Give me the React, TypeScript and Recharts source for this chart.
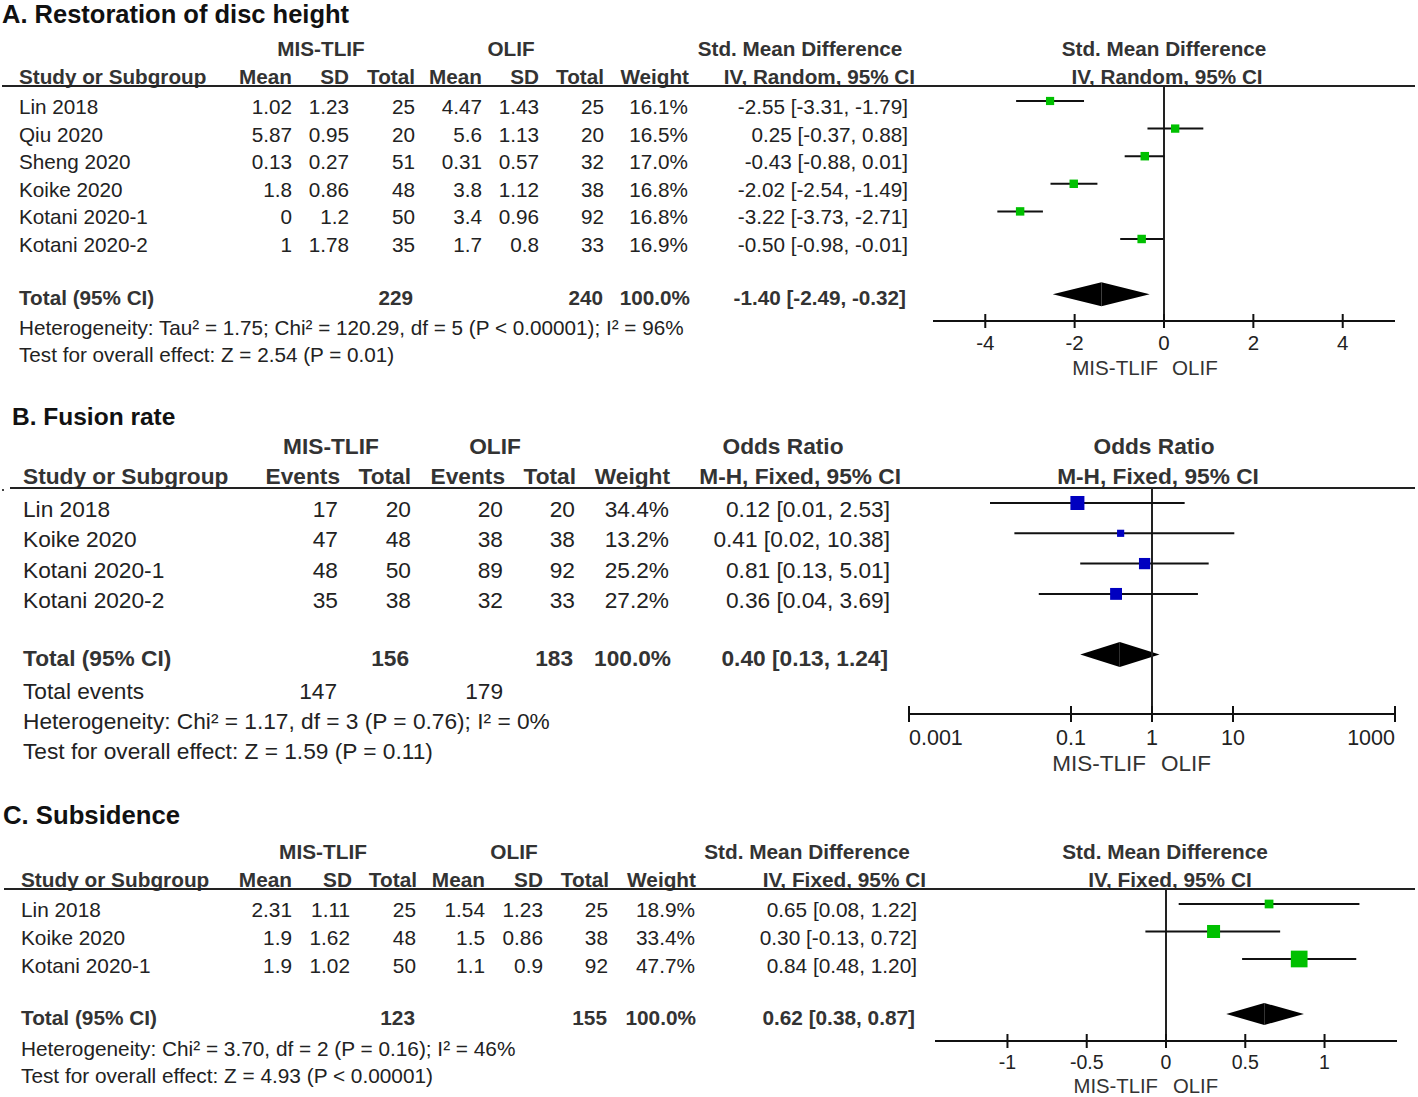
import React from 'react';
import { ScatterChart, Scatter, XAxis, YAxis, ErrorBar, ReferenceLine, ReferenceArea } from 'recharts';

const FONT = '"Liberation Sans", Arial, Helvetica, sans-serif';

// ---------- Panel A: Restoration of disc height ----------
const aStudies = ['Lin 2018', 'Qiu 2020', 'Sheng 2020', 'Koike 2020', 'Kotani 2020-1', 'Kotani 2020-2'];
const aMisMean = [1.02, 5.87, 0.13, 1.8, 0, 1];
const aMisSD = [1.23, 0.95, 0.27, 0.86, 1.2, 1.78];
const aMisTotal = [25, 20, 51, 48, 50, 35];
const aOlifMean = [4.47, 5.6, 0.31, 3.8, 3.4, 1.7];
const aOlifSD = [1.43, 1.13, 0.57, 1.12, 0.96, 0.8];
const aOlifTotal = [25, 20, 32, 38, 92, 33];
const aWeight = [16.1, 16.5, 17.0, 16.8, 16.8, 16.9];
const aEst = [-2.55, 0.25, -0.43, -2.02, -3.22, -0.5];
const aLo = [-3.31, -0.37, -0.88, -2.54, -3.73, -0.98];
const aHi = [-1.79, 0.88, 0.01, -1.49, -2.71, -0.01];
const aTotals = [229, 240];
const aPooled = [-1.4, -2.49, -0.32];
const aTicks = [-4, -2, 0, 2, 4];
const aHet = 'Heterogeneity: Tau² = 1.75; Chi² = 120.29, df = 5 (P < 0.00001); I² = 96%';
const aTest = 'Test for overall effect: Z = 2.54 (P = 0.01)';

// ---------- Panel B: Fusion rate ----------
const bStudies = ['Lin 2018', 'Koike 2020', 'Kotani 2020-1', 'Kotani 2020-2'];
const bMisEvents = [17, 47, 48, 35];
const bMisTotal = [20, 48, 50, 38];
const bOlifEvents = [20, 38, 89, 32];
const bOlifTotal = [20, 38, 92, 33];
const bWeight = [34.4, 13.2, 25.2, 27.2];
const bEst = [0.12, 0.41, 0.81, 0.36];
const bLo = [0.01, 0.02, 0.13, 0.04];
const bHi = [2.53, 10.38, 5.01, 3.69];
const bTotals = [156, 183];
const bTotalEvents = [147, 179];
const bPooled = [0.4, 0.13, 1.24];
const bTicks = [0.001, 0.1, 1, 10, 1000];
const bHet = 'Heterogeneity: Chi² = 1.17, df = 3 (P = 0.76); I² = 0%';
const bTest = 'Test for overall effect: Z = 1.59 (P = 0.11)';

// ---------- Panel C: Subsidence ----------
const cStudies = ['Lin 2018', 'Koike 2020', 'Kotani 2020-1'];
const cMisMean = [2.31, 1.9, 1.9];
const cMisSD = [1.11, 1.62, 1.02];
const cMisTotal = [25, 48, 50];
const cOlifMean = [1.54, 1.5, 1.1];
const cOlifSD = [1.23, 0.86, 0.9];
const cOlifTotal = [25, 38, 92];
const cWeight = [18.9, 33.4, 47.7];
const cEst = [0.65, 0.3, 0.84];
const cLo = [0.08, -0.13, 0.48];
const cHi = [1.22, 0.72, 1.2];
const cTotals = [123, 155];
const cPooled = [0.62, 0.38, 0.87];
const cTicks = [-1, -0.5, 0, 0.5, 1];
const cHet = 'Heterogeneity: Chi² = 3.70, df = 2 (P = 0.16); I² = 46%';
const cTest = 'Test for overall effect: Z = 4.93 (P < 0.00001)';

const ci = (e: number, l: number, h: number) => `${e.toFixed(2)} [${l.toFixed(2)}, ${h.toFixed(2)}]`;
const pct = (w: number) => `${w.toFixed(1)}%`;

type Row = { x: number; y: number; err: [number, number]; w: number };
const makeRows = (est: number[], lo: number[], hi: number[], w: number[]): Row[] =>
  est.map((e, i) => ({ x: e, y: i, err: [e - lo[i], hi[i] - e], w: w[i] }));

function T({ x, y, a = 'l', s, b = false, c = '#222', children }: any) {
  const tx = a === 'r' ? '-100%' : a === 'c' ? '-50%' : '0';
  return (
    <div
      style={{
        position: 'absolute',
        left: x,
        top: y,
        transform: `translate(${tx}, -50%)`,
        fontSize: s,
        fontWeight: b ? 700 : 400,
        color: c,
        whiteSpace: 'nowrap',
        lineHeight: 1.2,
        fontFamily: FONT,
      }}
    >
      {children}
    </div>
  );
}

function HLine({ x1, x2, y }: any) {
  return <div style={{ position: 'absolute', left: x1, top: y - 1, width: x2 - x1, height: 2, background: '#222' }} />;
}

function Forest(props: any) {
  const {
    plotLeft, plotTop, plotW, plotH, axisH, xDomain, ticks, scale, yDomain, rows, totalRow,
    pooled, halfH, color, maxSize, refX, tickHalf, tickDy, tickFont, labelDy, labelFont,
    leftGap, rightGap, edgeAlign,
  } = props;
  const pad = 10;
  const wMax = Math.max(...rows.map((r: Row) => r.w));

  const renderTick = (p: any) => {
    const v = p.payload.value;
    let anchor = 'middle';
    if (edgeAlign && v === xDomain[0]) anchor = 'start';
    if (edgeAlign && v === xDomain[1]) anchor = 'end';
    return (
      <g>
        <line x1={p.x} x2={p.x} y1={p.y - tickHalf} y2={p.y + tickHalf} stroke="#111" strokeWidth={2} />
        <text x={p.x} y={p.y + tickDy} textAnchor={anchor} fontSize={tickFont} fontFamily={FONT} fill="#222">
          {String(v)}
        </text>
      </g>
    );
  };

  const square = (p: any) => {
    const s = maxSize * Math.pow(p.payload.w / wMax, 0.7);
    return <rect x={p.cx - s / 2} y={p.cy - s / 2} width={s} height={s} fill={color} />;
  };

  const leftTri = (p: any) => (
    <polygon
      points={`${p.x},${p.y + p.height / 2} ${p.x + p.width},${p.y} ${p.x + p.width},${p.y + p.height}`}
      fill="#000"
    />
  );
  const rightTri = (p: any) => (
    <polygon
      points={`${p.x},${p.y} ${p.x + p.width},${p.y + p.height / 2} ${p.x},${p.y + p.height}`}
      fill="#000"
    />
  );

  const sideLabel = (p: any) => {
    const vb = p.viewBox || {};
    const bx = vb.x;
    const by = vb.y + vb.height + labelDy;
    return (
      <g>
        <text x={bx - leftGap} y={by} textAnchor="end" fontSize={labelFont} fontFamily={FONT} fill="#333">
          MIS-TLIF
        </text>
        <text x={bx + rightGap} y={by} textAnchor="start" fontSize={labelFont} fontFamily={FONT} fill="#333">
          OLIF
        </text>
      </g>
    );
  };

  return (
    <div style={{ position: 'absolute', left: plotLeft - pad, top: plotTop }}>
      <ScatterChart
        width={plotW + 2 * pad}
        height={plotH + axisH}
        margin={{ top: 0, right: pad, bottom: 0, left: pad }}
      >
        <XAxis
          dataKey="x"
          type="number"
          scale={scale}
          domain={xDomain}
          ticks={ticks}
          interval={0}
          allowDataOverflow
          height={axisH}
          tickSize={0}
          tickMargin={0}
          tickLine={false}
          axisLine={{ stroke: '#111', strokeWidth: 2 }}
          tick={renderTick}
        />
        <YAxis dataKey="y" type="number" domain={yDomain} reversed hide allowDataOverflow />
        <ReferenceLine x={refX} stroke="#222" strokeWidth={2} label={sideLabel} />
        <Scatter data={rows} isAnimationActive={false} shape={() => <g />}>
          <ErrorBar dataKey="err" direction="x" width={0} stroke="#111" strokeWidth={2} isAnimationActive={false} />
        </Scatter>
        <Scatter data={rows} isAnimationActive={false} shape={square} />
        <ReferenceArea
          x1={pooled[1]}
          x2={pooled[0]}
          y1={totalRow - halfH}
          y2={totalRow + halfH}
          ifOverflow="visible"
          shape={leftTri}
        />
        <ReferenceArea
          x1={pooled[0]}
          x2={pooled[2]}
          y1={totalRow - halfH}
          y2={totalRow + halfH}
          ifOverflow="visible"
          shape={rightTri}
        />
      </ScatterChart>
    </div>
  );
}

export default function App() {
  const HC = '#333';
  // Panel A
  const aS = 20.7;
  const aRowY = (i: number) => 107 + 27.6 * i;
  // Panel B
  const bS = 22.7;
  const bRowY = (i: number) => 510 + 30.33 * i;
  // Panel C
  const cS = 20.8;
  const cRowY = (i: number) => 910 + 28 * i;

  return (
    <div
      style={{
        position: 'absolute',
        left: 0,
        top: 0,
        width: 1418,
        height: 1097,
        background: '#fff',
        overflow: 'hidden',
        fontFamily: FONT,
      }}
    >
      {/* ================= Panel A ================= */}
      <T x={2} y={14} s={25.5} b c="#111">A. Restoration of disc height</T>
      <T x={321} y={49} s={aS} b c={HC} a="c">MIS-TLIF</T>
      <T x={511} y={49} s={aS} b c={HC} a="c">OLIF</T>
      <T x={800} y={49} s={aS} b c={HC} a="c">Std. Mean Difference</T>
      <T x={1164} y={49} s={aS} b c={HC} a="c">Std. Mean Difference</T>
      <T x={19} y={77} s={aS} b c={HC}>Study or Subgroup</T>
      <T x={292} y={77} s={aS} b c={HC} a="r">Mean</T>
      <T x={349} y={77} s={aS} b c={HC} a="r">SD</T>
      <T x={415} y={77} s={aS} b c={HC} a="r">Total</T>
      <T x={482} y={77} s={aS} b c={HC} a="r">Mean</T>
      <T x={539} y={77} s={aS} b c={HC} a="r">SD</T>
      <T x={604} y={77} s={aS} b c={HC} a="r">Total</T>
      <T x={689} y={77} s={aS} b c={HC} a="r">Weight</T>
      <T x={915} y={77} s={aS} b c={HC} a="r">IV, Random, 95% CI</T>
      <T x={1167} y={77} s={aS} b c={HC} a="c">IV, Random, 95% CI</T>
      <HLine x1={2} x2={1415} y={86} />
      {aStudies.map((st, i) => (
        <React.Fragment key={'a' + i}>
          <T x={19} y={aRowY(i)} s={aS}>{st}</T>
          <T x={292} y={aRowY(i)} s={aS} a="r">{aMisMean[i]}</T>
          <T x={349} y={aRowY(i)} s={aS} a="r">{aMisSD[i]}</T>
          <T x={415} y={aRowY(i)} s={aS} a="r">{aMisTotal[i]}</T>
          <T x={482} y={aRowY(i)} s={aS} a="r">{aOlifMean[i]}</T>
          <T x={539} y={aRowY(i)} s={aS} a="r">{aOlifSD[i]}</T>
          <T x={604} y={aRowY(i)} s={aS} a="r">{aOlifTotal[i]}</T>
          <T x={688} y={aRowY(i)} s={aS} a="r">{pct(aWeight[i])}</T>
          <T x={908} y={aRowY(i)} s={aS} a="r">{ci(aEst[i], aLo[i], aHi[i])}</T>
        </React.Fragment>
      ))}
      <T x={19} y={298} s={aS} b c={HC}>Total (95% CI)</T>
      <T x={413} y={298} s={aS} b c={HC} a="r">{aTotals[0]}</T>
      <T x={603} y={298} s={aS} b c={HC} a="r">{aTotals[1]}</T>
      <T x={690} y={298} s={aS} b c={HC} a="r">100.0%</T>
      <T x={906} y={298} s={aS} b c={HC} a="r">{ci(aPooled[0], aPooled[1], aPooled[2])}</T>
      <T x={19} y={328} s={aS}>{aHet}</T>
      <T x={19} y={355} s={aS}>{aTest}</T>
      <Forest
        plotLeft={933}
        plotTop={86}
        plotW={462}
        plotH={235}
        axisH={62}
        xDomain={[-5.17, 5.17]}
        ticks={aTicks}
        scale="linear"
        yDomain={[-0.543, 7.971]}
        rows={makeRows(aEst, aLo, aHi, aWeight)}
        totalRow={7}
        pooled={aPooled}
        halfH={0.435}
        color="#00c000"
        maxSize={8.5}
        refX={0}
        tickHalf={7}
        tickDy={28.5}
        tickFont={20.5}
        labelDy={53.5}
        labelFont={20.6}
        leftGap={6}
        rightGap={8}
        edgeAlign={false}
      />

      {/* ================= Panel B ================= */}
      <T x={12} y={417} s={24.5} b c="#111">B. Fusion rate</T>
      <T x={331} y={447} s={bS} b c={HC} a="c">MIS-TLIF</T>
      <T x={495} y={447} s={bS} b c={HC} a="c">OLIF</T>
      <T x={783} y={447} s={bS} b c={HC} a="c">Odds Ratio</T>
      <T x={1154} y={447} s={bS} b c={HC} a="c">Odds Ratio</T>
      <T x={23} y={477} s={bS} b c={HC}>Study or Subgroup</T>
      <T x={340} y={477} s={bS} b c={HC} a="r">Events</T>
      <T x={411} y={477} s={bS} b c={HC} a="r">Total</T>
      <T x={505} y={477} s={bS} b c={HC} a="r">Events</T>
      <T x={576} y={477} s={bS} b c={HC} a="r">Total</T>
      <T x={670} y={477} s={bS} b c={HC} a="r">Weight</T>
      <T x={901} y={477} s={bS} b c={HC} a="r">M-H, Fixed, 95% CI</T>
      <T x={1158} y={477} s={bS} b c={HC} a="c">M-H, Fixed, 95% CI</T>
      <div style={{ position: 'absolute', left: 2, top: 489, width: 2, height: 2, background: '#444' }} />
      <HLine x1={10} x2={1415} y={488} />
      {bStudies.map((st, i) => (
        <React.Fragment key={'b' + i}>
          <T x={23} y={bRowY(i)} s={bS}>{st}</T>
          <T x={338} y={bRowY(i)} s={bS} a="r">{bMisEvents[i]}</T>
          <T x={411} y={bRowY(i)} s={bS} a="r">{bMisTotal[i]}</T>
          <T x={503} y={bRowY(i)} s={bS} a="r">{bOlifEvents[i]}</T>
          <T x={575} y={bRowY(i)} s={bS} a="r">{bOlifTotal[i]}</T>
          <T x={669} y={bRowY(i)} s={bS} a="r">{pct(bWeight[i])}</T>
          <T x={890} y={bRowY(i)} s={bS} a="r">{ci(bEst[i], bLo[i], bHi[i])}</T>
        </React.Fragment>
      ))}
      <T x={23} y={659} s={bS} b c={HC}>Total (95% CI)</T>
      <T x={409} y={659} s={bS} b c={HC} a="r">{bTotals[0]}</T>
      <T x={573} y={659} s={bS} b c={HC} a="r">{bTotals[1]}</T>
      <T x={671} y={659} s={bS} b c={HC} a="r">100.0%</T>
      <T x={888} y={659} s={bS} b c={HC} a="r">{ci(bPooled[0], bPooled[1], bPooled[2])}</T>
      <T x={23} y={692} s={bS}>Total events</T>
      <T x={337} y={692} s={bS} a="r">{bTotalEvents[0]}</T>
      <T x={503} y={692} s={bS} a="r">{bTotalEvents[1]}</T>
      <T x={23} y={722} s={bS}>{bHet}</T>
      <T x={23} y={752} s={bS}>{bTest}</T>
      <Forest
        plotLeft={909}
        plotTop={488}
        plotW={486}
        plotH={226}
        axisH={66}
        xDomain={[0.001, 1000]}
        ticks={bTicks}
        scale="log"
        yDomain={[-0.495, 6.964]}
        rows={makeRows(bEst, bLo, bHi, bWeight)}
        totalRow={5}
        pooled={bPooled}
        halfH={0.41}
        color="#0000c0"
        maxSize={14}
        refX={1}
        tickHalf={8}
        tickDy={31}
        tickFont={21.5}
        labelDy={57}
        labelFont={22.5}
        leftGap={6}
        rightGap={9}
        edgeAlign={true}
      />

      {/* ================= Panel C ================= */}
      <T x={3} y={815} s={25.7} b c="#111">C. Subsidence</T>
      <T x={323} y={852} s={cS} b c={HC} a="c">MIS-TLIF</T>
      <T x={514} y={852} s={cS} b c={HC} a="c">OLIF</T>
      <T x={807} y={852} s={cS} b c={HC} a="c">Std. Mean Difference</T>
      <T x={1165} y={852} s={cS} b c={HC} a="c">Std. Mean Difference</T>
      <T x={21} y={880} s={cS} b c={HC}>Study or Subgroup</T>
      <T x={292} y={880} s={cS} b c={HC} a="r">Mean</T>
      <T x={352} y={880} s={cS} b c={HC} a="r">SD</T>
      <T x={417} y={880} s={cS} b c={HC} a="r">Total</T>
      <T x={485} y={880} s={cS} b c={HC} a="r">Mean</T>
      <T x={543} y={880} s={cS} b c={HC} a="r">SD</T>
      <T x={609} y={880} s={cS} b c={HC} a="r">Total</T>
      <T x={696} y={880} s={cS} b c={HC} a="r">Weight</T>
      <T x={926} y={880} s={cS} b c={HC} a="r">IV, Fixed, 95% CI</T>
      <T x={1170} y={880} s={cS} b c={HC} a="c">IV, Fixed, 95% CI</T>
      <HLine x1={4} x2={1415} y={889} />
      {cStudies.map((st, i) => (
        <React.Fragment key={'c' + i}>
          <T x={21} y={cRowY(i)} s={cS}>{st}</T>
          <T x={292} y={cRowY(i)} s={cS} a="r">{cMisMean[i]}</T>
          <T x={350} y={cRowY(i)} s={cS} a="r">{cMisSD[i]}</T>
          <T x={416} y={cRowY(i)} s={cS} a="r">{cMisTotal[i]}</T>
          <T x={485} y={cRowY(i)} s={cS} a="r">{cOlifMean[i]}</T>
          <T x={543} y={cRowY(i)} s={cS} a="r">{cOlifSD[i]}</T>
          <T x={608} y={cRowY(i)} s={cS} a="r">{cOlifTotal[i]}</T>
          <T x={695} y={cRowY(i)} s={cS} a="r">{pct(cWeight[i])}</T>
          <T x={917} y={cRowY(i)} s={cS} a="r">{ci(cEst[i], cLo[i], cHi[i])}</T>
        </React.Fragment>
      ))}
      <T x={21} y={1018} s={cS} b c={HC}>Total (95% CI)</T>
      <T x={415} y={1018} s={cS} b c={HC} a="r">{cTotals[0]}</T>
      <T x={607} y={1018} s={cS} b c={HC} a="r">{cTotals[1]}</T>
      <T x={696} y={1018} s={cS} b c={HC} a="r">100.0%</T>
      <T x={915} y={1018} s={cS} b c={HC} a="r">{ci(cPooled[0], cPooled[1], cPooled[2])}</T>
      <T x={21} y={1049} s={cS}>{cHet}</T>
      <T x={21} y={1076} s={cS}>{cTest}</T>
      <Forest
        plotLeft={935}
        plotTop={889}
        plotW={462}
        plotH={152}
        axisH={56}
        xDomain={[-1.457, 1.457]}
        ticks={cTicks}
        scale="linear"
        yDomain={[-0.545, 4.982]}
        rows={makeRows(cEst, cLo, cHi, cWeight)}
        totalRow={4}
        pooled={cPooled}
        halfH={0.4}
        color="#00c000"
        maxSize={16.7}
        refX={0}
        tickHalf={7}
        tickDy={28}
        tickFont={19.5}
        labelDy={52}
        labelFont={20.3}
        leftGap={8}
        rightGap={7}
        edgeAlign={false}
      />
    </div>
  );
}
